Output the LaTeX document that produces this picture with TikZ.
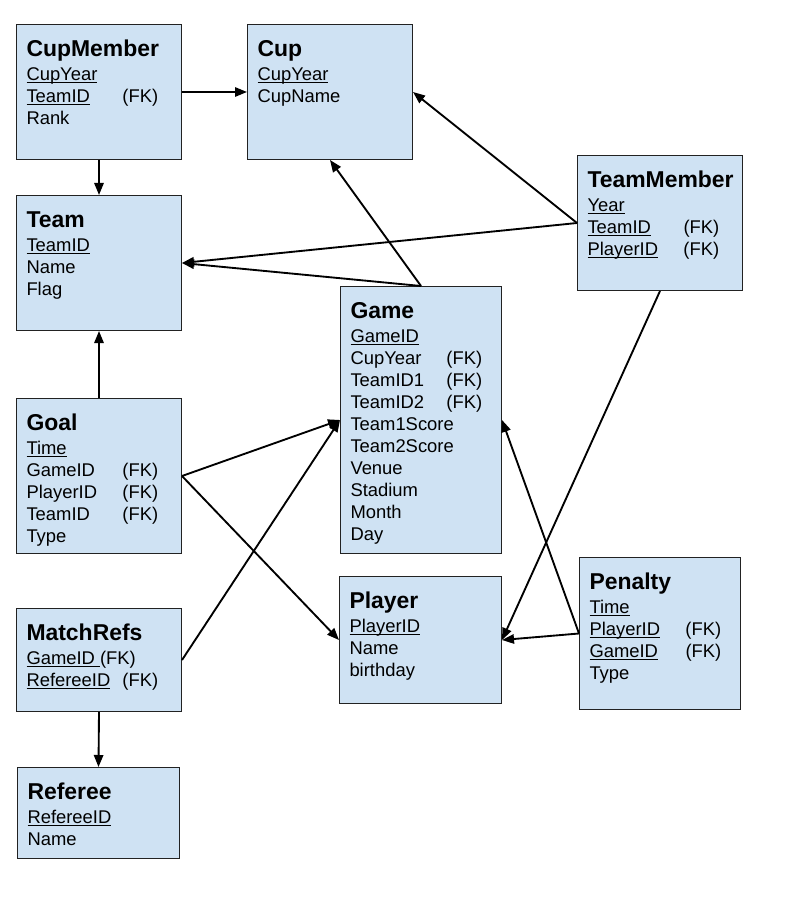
\documentclass[tikz,border=0pt]{standalone}
\usepackage{fontspec}
\setmainfont{Liberation Sans}
\usetikzlibrary{arrows.meta}

\definecolor{tblblue}{HTML}{CFE2F3}
\definecolor{tblline}{HTML}{222222}

% key field (underlined) and the (FK) column
\newcommand{\ukey}[1]{\leavevmode\setbox0=\hbox{#1}\rlap{\rule[-1.9pt]{\wd0}{0.75pt}}\box0}
\newcommand{\fkcol}[1]{\makebox[72pt][l]{#1}}
% width, height, title, fields
\newcommand{\tablebody}[4]{%
  \parbox[c][#2][t]{#1}{\raggedright\leftskip=7.5pt
    {\fontsize{17.2}{17.2}\bfseries\selectfont\rule{0pt}{24pt}#3\par}%
    \vspace{1.5pt}%
    \fontsize{13.8}{16.5}\selectfont\leavevmode #4\par}}

\begin{document}
\begin{tikzpicture}[
  x=0.75pt, y=-0.75pt,
  table/.style={draw=tblline, line width=0.75pt, fill=tblblue, inner sep=0pt, anchor=north west},
  fk/.style={-{Triangle[length=9pt, width=7pt]}, line width=1.4pt, black}
]
\useasboundingbox (0,0) rectangle (796,905);

% Tables, top row
\node[table] (cupmember) at (16,24) {\tablebody{123.75pt}{101.25pt}{CupMember}{%
  \ukey{CupYear}\\ \fkcol{\ukey{TeamID}}(FK)\\ Rank}};
\node[table] (cup) at (247,24) {\tablebody{123.75pt}{101.25pt}{Cup}{%
  \ukey{CupYear}\\ CupName}};
\node[table] (team) at (16,195) {\tablebody{123.75pt}{101.25pt}{Team}{%
  \ukey{TeamID}\\ Name\\ Flag}};
\node[table] (teammember) at (577,155) {\tablebody{123.75pt}{101.25pt}{TeamMember}{%
  \ukey{Year}\\ \fkcol{\ukey{TeamID}}(FK)\\ \fkcol{\ukey{PlayerID}}(FK)}};

% Tables, middle
\node[table] (game) at (340,286) {\tablebody{120.75pt}{200.25pt}{Game}{%
  \ukey{GameID}\\ \fkcol{CupYear}(FK)\\ \fkcol{TeamID1}(FK)\\ \fkcol{TeamID2}(FK)\\
  Team1Score\\ Team2Score\\ Venue\\ Stadium\\ Month\\ Day}};
\node[table] (goal) at (16,398) {\tablebody{123.75pt}{116.25pt}{Goal}{%
  \ukey{Time}\\ \fkcol{GameID}(FK)\\ \fkcol{PlayerID}(FK)\\ \fkcol{TeamID}(FK)\\ Type}};

% Tables, bottom
\node[table] (matchrefs) at (16,608) {\tablebody{123.75pt}{77.25pt}{MatchRefs}{%
  \ukey{GameID }(FK)\\ \fkcol{\ukey{RefereeID}}(FK)}};
\node[table] (referee) at (17,767) {\tablebody{121.5pt}{68.25pt}{Referee}{%
  \ukey{RefereeID}\\ Name}};
\node[table] (player) at (339,576) {\tablebody{121.5pt}{95.25pt}{Player}{%
  \ukey{PlayerID}\\ Name\\ birthday}};
\node[table] (penalty) at (579,557) {\tablebody{120.75pt}{114pt}{Penalty}{%
  \ukey{Time}\\ \fkcol{\ukey{PlayerID}}(FK)\\ \fkcol{\ukey{GameID}}(FK)\\ Type}};

% Foreign keys
\draw[fk] (cupmember.east) -- (cup.west);
\draw[fk] (cupmember.south) -- (team.north);
\draw[fk] (goal.north) -- (team.south);
\draw[fk] (game.north) -- (team.east);
\draw[fk] (game.north) -- (cup.south);
\draw[fk] (teammember.west) -- (cup.east);
\draw[fk] (teammember.west) -- (team.east);
\draw[fk] (teammember.south) -- (player.east);
\draw[fk] (goal.east) -- (game.west);
\draw[fk] (goal.east) -- (player.west);
\draw[fk] (matchrefs.east) -- (game.west);
\draw[fk] (matchrefs.south) -- (referee.north);
\draw[fk] (penalty.west) -- (player.east);
\draw[fk] (penalty.west) -- (game.east);

\end{tikzpicture}
\end{document}
